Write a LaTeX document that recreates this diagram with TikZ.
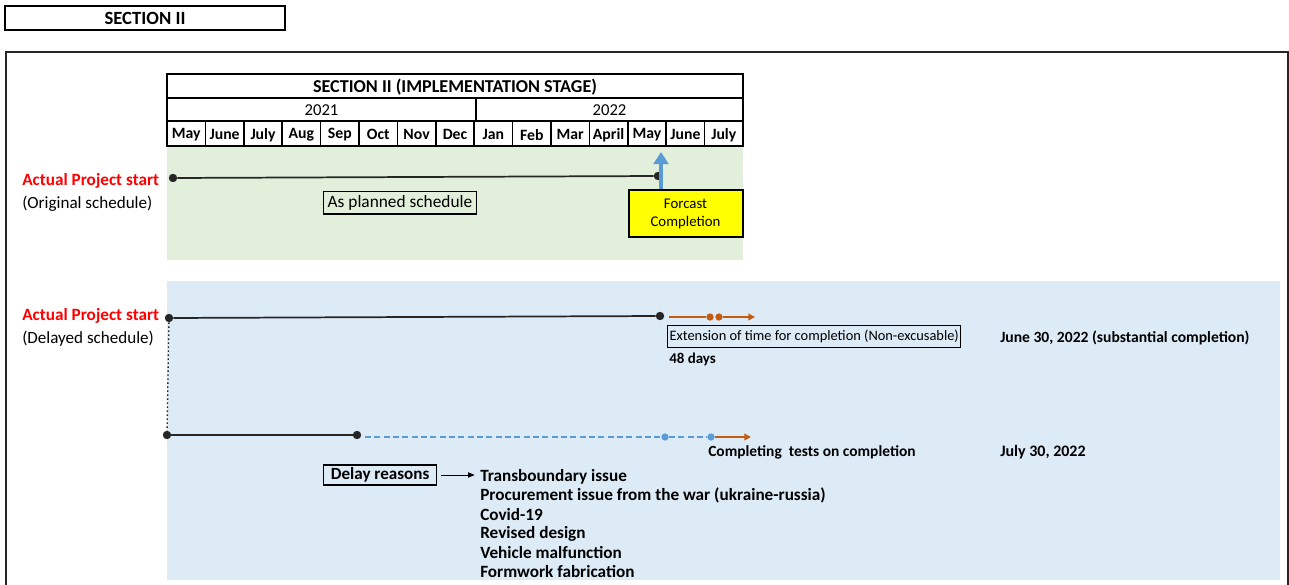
\documentclass[tikz,border=0pt]{standalone}
\usepackage{fontspec}
\setmainfont{Carlito}
\usetikzlibrary{arrows.meta}
\definecolor{greenbg}{HTML}{E2EFDA}
\definecolor{bluebg}{HTML}{DDEBF7}
\definecolor{arrblue}{HTML}{5B9BD5}
\definecolor{orng}{HTML}{C55A11}
\definecolor{redtxt}{HTML}{FF0000}
\definecolor{dark}{HTML}{262626}
\definecolor{yel}{HTML}{FFFF00}
\begin{document}
\begin{tikzpicture}[x=0.75pt,y=-0.75pt,
  font=\fontsize{12.8}{15}\selectfont,
  bdot/.style={circle,fill=dark,inner sep=0pt,minimum size=6.3pt},
  odot/.style={circle,fill=orng,inner sep=0pt,minimum size=5.5pt},
  ldot/.style={circle,fill=arrblue,inner sep=0pt,minimum size=5.5pt},
  tline/.style={line width=1.3pt,dark},
  boxed/.style={draw=black,line width=1pt,inner sep=2pt},
  lbl/.style={anchor=west,inner sep=0pt,yshift=-1.2pt},
  redlbl/.style={lbl,text=redtxt,font=\fontsize{12.9}{15}\selectfont\bfseries},
  bold/.style={lbl,font=\fontsize{12.9}{15}\selectfont\bfseries},
  oarrow/.style={orng,line width=1.4pt,-{Triangle[width=5pt,length=5pt]}},
  cell/.style={font=\fontsize{11.8}{14}\selectfont\bfseries,inner sep=0pt,yshift=-0.6pt}
]
\useasboundingbox (0,0) rectangle (1289,585);
\fill[white] (0,0) rectangle (1289,585);
% top label
\node[draw=black,line width=1.2pt,minimum width=210pt,minimum height=18pt,inner sep=0pt,font=\fontsize{14}{16}\selectfont\bfseries] (sec) at (145,18) {SECTION II};
% frame
\draw[line width=0.9pt,black!85] (6,600) -- (6,52) -- (1288,52) -- (1288,600);
% backgrounds
\fill[greenbg] (167,146) rectangle (743,260);
\fill[bluebg] (167,281) rectangle (1280,580);
% table
\begin{scope}[line width=1.2pt]
\draw (167,74) rectangle (743,146);
\draw (167,98) -- (743,98);
\draw (167,121) -- (743,121);
\draw (476,98) -- (476,121);
\foreach \i in {1,...,14} \draw ({167+38.4*\i},121) -- ({167+38.4*\i},146);
\end{scope}
\node[font=\fontsize{13.6}{15}\selectfont\bfseries] (title) at (455,87) {SECTION II (IMPLEMENTATION STAGE)};
\node[font=\fontsize{12.5}{14}\selectfont] (y21) at (321.5,110.5) {2021};
\node[font=\fontsize{12.5}{14}\selectfont] (y22) at (609.5,110.5) {2022};
\foreach \m [count=\i from 0] in {May,June,July,Aug,Sep,Oct,Nov,Dec,Jan,Feb,Mar,April,May,June,July}
  \node[cell] (m\i) at ({167+38.4*\i+19.2},134) {\m};
% original schedule
\node[redlbl] (aps1) at (22,179) {Actual Project start};
\node[lbl] (orig) at (22,202) {(Original schedule)};
\node[bdot] (o1) at (173,178) {};
\node[bdot] (o2) at (658,176) {};
\draw[tline] (o1) -- (o2);
\node[boxed,font=\fontsize{13}{15}\selectfont,anchor=west,inner xsep=3pt,minimum height=17pt] (aps) at (323,202.5) {As planned schedule};
\node[draw=black,line width=1.5pt,fill=yel,minimum width=85.5pt,minimum height=35pt,align=center,font=\fontsize{11.1}{13.5}\selectfont,inner sep=0pt] (fc) at (685.5,213.5) {Forcast\\Completion};
\coordinate (fctop) at (661,152);
\draw[arrblue,line width=3.5pt,-{Triangle[width=11pt,length=9pt]}] (fctop |- fc.north) -- (fctop);
% delayed schedule
\node[redlbl] (aps2) at (22,314) {Actual Project start};
\node[lbl] (del) at (22,337) {(Delayed schedule)};
\node[bdot] (d1) at (169,318) {};
\node[bdot] (d2) at (660,316) {};
\draw[tline] (d1) -- (d2);
\coordinate (e0) at (669,317);
\node[odot] (e1) at (710,317) {};
\node[odot] (e2) at (719,317) {};
\coordinate (e3) at (755,317);
\draw[orng,line width=1.4pt] (e0) -- (e1);
\draw[oarrow] (e2) -- (e3);
\node[boxed,line width=0.8pt,anchor=west,font=\fontsize{10.8}{13}\selectfont,inner xsep=1.5pt,minimum height=16pt] (ext) at (667,336.5) {Extension of time for completion (Non-excusable)};
\node[bold,font=\fontsize{11.2}{13}\selectfont\bfseries] (days) at (669,358) {48 days};
\node[bold,font=\fontsize{11.7}{13}\selectfont\bfseries] (jun) at (1000,336.5) {June 30, 2022 (substantial completion)};
% second line
\node[bdot] (b1) at (167,435) {};
\node[bdot] (b2) at (357,435) {};
\draw[dark,line width=1pt,dotted] (d1) -- (b1);
\draw[tline] (b1) -- (b2);
\coordinate (c0) at (365,437);
\node[ldot] (c1) at (665,437) {};
\node[ldot] (c2) at (711,437) {};
\coordinate (c3) at (751,437);
\draw[arrblue,line width=1.3pt,dash pattern=on 4.5pt off 2.5pt] (c0) -- (c1) -- (c2);
\draw[oarrow] (c2.east) -- (c3);
\node[bold,font=\fontsize{11.6}{13}\selectfont\bfseries] (ct) at (708,451) {Completing\ \ tests on completion};
\node[bold,font=\fontsize{12}{13}\selectfont\bfseries] (jul) at (1000,451) {July 30, 2022};
% delay reasons
\node[boxed,line width=0.8pt,anchor=west,font=\fontsize{12.8}{15}\selectfont\bfseries,inner xsep=5.5pt,inner ysep=0pt,minimum height=15pt] (dr) at (323,475) {Delay reasons};
\node[bold] (r1) at (480,475) {Transboundary issue};
\node[bold] (r2) at (480,494) {Procurement issue from the war (ukraine-russia)};
\node[bold] (r3) at (480,513) {Covid-19};
\node[bold] (r4) at (480,532) {Revised design};
\node[bold] (r5) at (480,551) {Vehicle malfunction};
\node[bold] (r6) at (480,570) {Formwork fabrication};
\draw[black,line width=0.6pt,-{Triangle[width=4pt,length=5pt]}] ([xshift=3pt]dr.east) -- ([xshift=-4pt]r1.west |- dr.east);
\end{tikzpicture}
\end{document}
